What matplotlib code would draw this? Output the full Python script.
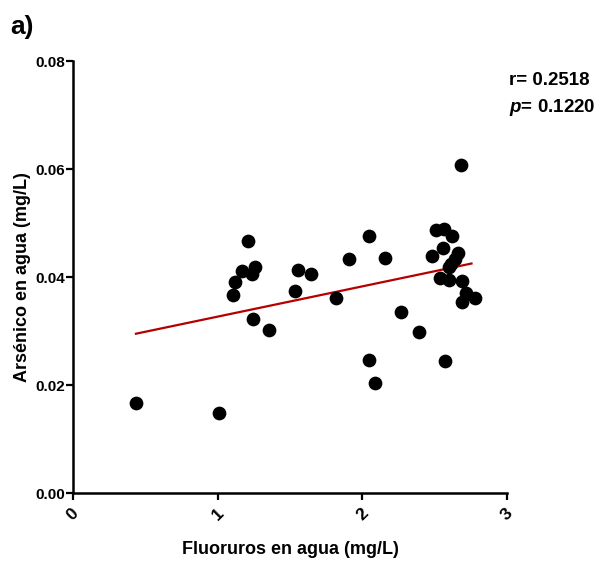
import numpy as np
import matplotlib.pyplot as plt

plt.rcParams['font.family'] = ['Liberation Sans', 'DejaVu Sans']
plt.rcParams['mathtext.fontset'] = 'custom'
plt.rcParams['mathtext.it'] = 'Liberation Sans:italic:bold'

# fluoruros (mg/L) vs arsenico (mg/L)
fluoruros = [0.435, 1.01,
             1.21, 1.17, 1.26, 1.24, 1.12, 1.108, 1.246, 1.357,
             1.557, 1.647, 1.536, 1.815, 1.905, 2.046, 2.154, 2.045, 2.085, 2.27, 2.39,
             2.68, 2.51, 2.565, 2.62, 2.56, 2.66, 2.48, 2.64, 2.61, 2.60, 2.54, 2.60,
             2.69, 2.716, 2.78, 2.69, 2.57]
arsenico = [0.0167, 0.0149,
            0.0467, 0.0412, 0.0419, 0.0405, 0.0391, 0.0367, 0.0322, 0.0301,
            0.0413, 0.0405, 0.0374, 0.0362, 0.0434, 0.0476, 0.0436, 0.0246, 0.0204, 0.0336, 0.0298,
            0.0607, 0.0487, 0.0488, 0.0476, 0.0453, 0.0445, 0.0438, 0.0434, 0.0424, 0.0419, 0.0399, 0.0394,
            0.0393, 0.0370, 0.0362, 0.0354, 0.0244]
fit_x = [0.435, 2.755]
fit_y = [0.0295, 0.0425]

fig = plt.figure(figsize=(6.1, 5.65), dpi=100)
ax = fig.add_axes([0.1197, 0.1274, 0.7114, 0.7646])

ax.scatter(fluoruros, arsenico, s=98, color='black', zorder=3, linewidths=0)
ax.plot(fit_x, fit_y, color='#b40000', lw=1.6, zorder=2)

ax.set_xlim(0, 3)
ax.set_ylim(0, 0.08)
ax.set_xticks([0, 1, 2, 3])
ax.set_yticks([0, 0.02, 0.04, 0.06, 0.08])
ax.set_yticklabels(['0.00', '0.02', '0.04', '0.06', '0.08'])
ax.set_xticklabels(['0', '1', '2', '3'], rotation=45, ha='center')

for side in ['top', 'right']:
    ax.spines[side].set_visible(False)
for side in ['left', 'bottom']:
    ax.spines[side].set_linewidth(1.8)
ax.tick_params(direction='out', length=5, width=1.6, labelsize=11)
ax.tick_params(axis='y', pad=1)
ax.tick_params(axis='x', pad=4, labelsize=12.5)
for lab in ax.get_xticklabels() + ax.get_yticklabels():
    lab.set_fontweight('bold')

ax.set_xlabel('Fluoruros en agua (mg/L)', fontsize=13, fontweight='bold', labelpad=13)
ax.set_ylabel('Arsénico en agua (mg/L)', fontsize=13, fontweight='bold', labelpad=3)

fig.text(0.016, 0.952, 'a)', fontsize=19, fontweight='bold', va='center')
fig.text(0.834, 0.857, 'r= 0.2518', fontsize=13.5, fontweight='bold', va='center')
fig.text(0.834, 0.810, '$p$= 0.1220', fontsize=13.5, fontweight='bold', va='center')

fig.savefig('out.png', dpi=100)
